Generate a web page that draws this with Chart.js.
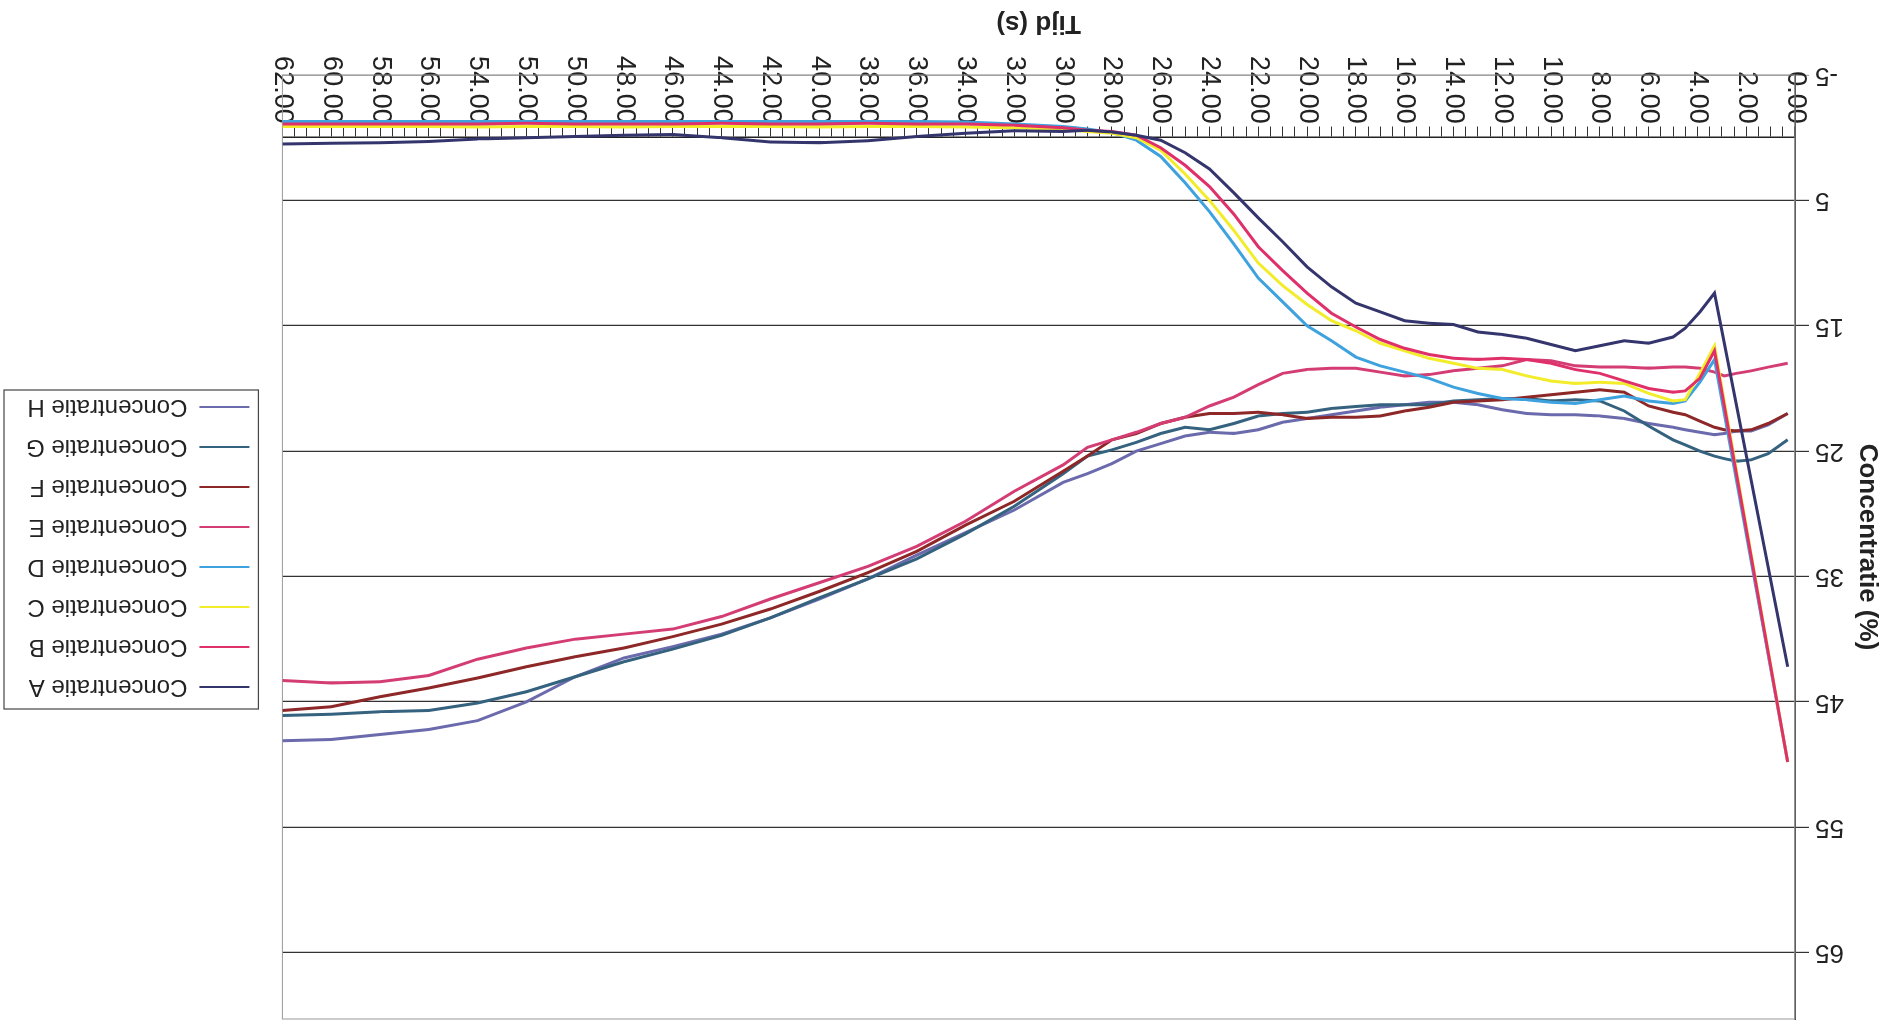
<!DOCTYPE html>
<html>
<head>
<meta charset="utf-8">
<script src="https://cdn.jsdelivr.net/npm/chart.js@4.4.1/dist/chart.umd.min.js"></script>
<style>
    html, body { margin: 0; padding: 0; background: #fff; overflow: hidden; }
    /* het origineel is ondersteboven gescand, dus de hele grafiek 180 graden draaien */
    #wrap { width: 1891px; height: 1025px; transform: rotate(180deg); }
</style>
</head>
<body>
<div id="wrap"><canvas id="grafiek" width="1891" height="1025"></canvas></div>
<script>
// tijd in seconden (gedeeld door alle reeksen)
const tijd = [0.3, 1.1, 1.8, 2.4, 2.9, 3.3, 3.9, 4.5, 5, 6, 7, 8, 9, 10, 11, 12, 13, 14, 15, 16,
    17, 18, 19, 20, 21, 22, 23, 24, 25, 26, 27, 28, 29, 30, 32, 34, 36, 38, 40, 42,
    44, 46, 48, 50, 52, 54, 56, 58, 60, 62];

// concentratie (%) per reeks, null = geen meting (lijn loopt door)
const concA = [42.2, null, null, null, null, 12.4, 13.9, 15.2, 15.9, 16.4, 16.2, 16.6, 17.0, 16.5, 16.0, 15.7, 15.5, 14.9, 14.8, 14.6,
    13.9, 13.2, 11.9, 10.3, 8.3, 6.4, 4.4, 2.5, 1.2, 0.2, -0.2, -0.45, -0.6, -0.5, -0.55, -0.35, -0.1, 0.25, 0.4, 0.35,
    0.0, -0.25, -0.2, -0.1, 0.0, 0.1, 0.3, 0.4, 0.45, 0.5];
const concB = [49.8, null, null, null, null, 17.0, 19.2, 20.2, 20.3, 20.0, 19.4, 18.8, 18.5, 18.0, 17.7, 17.6, 17.7, 17.6, 17.3, 16.8,
    16.1, 15.1, 14.0, 12.4, 10.6, 8.7, 6.1, 3.9, 2.2, 0.8, -0.2, -0.5, -0.6, -0.8, -1.0, -1.1, -1.1, -1.15, -1.1, -1.1,
    -1.15, -1.1, -1.1, -1.1, -1.15, -1.1, -1.1, -1.1, -1.1, -1.1];
const concC = [49.8, null, null, null, null, 16.6, 18.8, 20.9, 21.0, 20.4, 19.6, 19.5, 19.6, 19.4, 19.0, 18.5, 18.4, 18.0, 17.6, 17.0,
    16.4, 15.4, 14.6, 13.3, 11.8, 10.0, 7.4, 5.0, 2.9, 1.0, 0.0, -0.35, -0.5, -0.7, -0.8, -0.85, -0.9, -0.9, -0.85, -0.9,
    -0.9, -0.9, -0.85, -0.9, -0.9, -0.85, -0.9, -0.9, -0.9, -0.9];
const concD = [49.8, null, null, null, null, 17.7, 19.5, 21.0, 21.2, 21.0, 20.6, 20.9, 21.2, 21.1, 20.9, 20.8, 20.4, 19.9, 19.2, 18.7,
    18.2, 17.5, 16.2, 15.0, 13.1, 11.2, 8.5, 5.9, 3.6, 1.5, 0.2, -0.4, -0.7, -0.9, -1.1, -1.25, -1.3, -1.3, -1.3, -1.3,
    -1.3, -1.3, -1.3, -1.3, -1.3, -1.3, -1.3, -1.3, -1.3, -1.3];
const concE = [18.0, 18.3, 18.6, 18.8, 19.0, 18.7, 18.4, 18.3, 18.3, 18.4, 18.3, 18.3, 18.2, 17.8, 17.7, 18.2, 18.4, 18.6, 18.9, 19.0,
    18.7, 18.4, 18.4, 18.5, 18.8, 19.7, 20.7, 21.4, 22.3, 22.8, 23.5, 24.1, 24.7, 26.1, 28.2, 30.6, 32.6, 34.2, 35.5, 36.8,
    38.2, 39.2, 39.6, 40.0, 40.7, 41.6, 42.9, 43.4, 43.5, 43.3];
const concF = [22.0, 22.8, 23.3, 23.4, 23.3, 23.1, 22.6, 22.1, 21.9, 21.4, 20.3, 20.1, 20.3, 20.5, 20.7, 20.9, 21.0, 21.1, 21.5, 21.8,
    22.2, 22.3, 22.3, 22.4, 22.1, 21.9, 22.0, 22.0, 22.3, 22.8, 23.6, 24.1, 25.4, 26.6, 29.0, 30.9, 33.0, 34.7, 36.2, 37.6,
    38.8, 39.8, 40.7, 41.4, 42.2, 43.1, 43.9, 44.6, 45.4, 45.7];
const concG = [24.1, 25.2, 25.7, 25.8, 25.6, 25.4, 25.0, 24.5, 24.1, 23.0, 21.8, 21.0, 20.9, 21.0, 20.8, 20.8, 20.9, 21.0, 21.3, 21.3,
    21.3, 21.45, 21.6, 21.9, 22.0, 22.2, 22.8, 23.3, 23.1, 23.6, 24.3, 24.9, 25.4, 26.8, 29.4, 31.6, 33.6, 35.2, 36.7, 38.3,
    39.7, 40.8, 41.8, 43.0, 44.2, 45.1, 45.7, 45.8, 46.0, 46.1];
const concH = [22.0, 22.9, 23.4, 23.4, 23.6, 23.7, 23.5, 23.3, 23.1, 22.8, 22.4, 22.2, 22.1, 22.1, 22.0, 21.7, 21.3, 21.1, 21.1, 21.3,
    21.5, 21.8, 22.1, 22.4, 22.7, 23.3, 23.6, 23.5, 23.8, 24.4, 25.0, 26.0, 26.8, 27.5, 29.7, 31.5, 33.3, 35.2, 36.8, 38.3,
    39.6, 40.6, 41.5, 43.0, 45.0, 46.5, 47.2, 47.6, 48.0, 48.1];

const reeksNamen = ["Concentratie A", "Concentratie B", "Concentratie C", "Concentratie D",
    "Concentratie E", "Concentratie F", "Concentratie G", "Concentratie H"];
const yTicks = [-5, 5, 15, 25, 35, 45, 55, 65];

const alleReeksen = [concA, concB, concC, concD, concE, concF, concG, concH];
const kleuren = ["#35356e", "#e0306a", "#f2ec2a", "#3ea2de", "#d43d74", "#8e2727", "#34627f", "#6a6aac"];

Chart.defaults.font.family = '"Liberation Sans", Arial, sans-serif';
Chart.defaults.color = "#222";

// lichte rand om het tekengebied en een kader om de legenda
const kaderPlugin = {
    id: "kader",
    afterLayout(chart) {
        // legenda iets naar rechts, zoals in het origineel
        chart.legend.left += 17;
        chart.legend.right += 17;
    },
    beforeDatasetsDraw(chart) {
        const { ctx, chartArea } = chart;
        ctx.save();
        ctx.strokeStyle = "#9a9a9a";
        ctx.lineWidth = 1;
        ctx.strokeRect(chartArea.left, chartArea.top, chartArea.right - chartArea.left, chartArea.bottom - chartArea.top);
        ctx.restore();
    },
    afterDraw(chart) {
        const boxes = chart.legend.legendHitBoxes;
        if (!boxes || !boxes.length) return;
        const left = Math.min(...boxes.map(b => b.left)) - 9;
        const top = Math.min(...boxes.map(b => b.top)) - 10;
        const right = Math.max(...boxes.map(b => b.left + b.width)) + 22;
        const bottom = Math.max(...boxes.map(b => b.top + b.height)) + 5;
        const ctx = chart.ctx;
        ctx.save();
        ctx.strokeStyle = "#444";
        ctx.lineWidth = 1.2;
        ctx.strokeRect(left, top, right - left, bottom - top);
        ctx.restore();
    }
};

const datasets = alleReeksen.map((reeks, i) => ({
    label: reeksNamen[i],
    data: tijd.map((t, j) => ({ x: t, y: reeks[j] })),
    borderColor: kleuren[i],
    backgroundColor: kleuren[i],
    borderWidth: 3,
    pointRadius: 0,
    tension: 0,
    spanGaps: true
}));

new Chart(document.getElementById("grafiek"), {
    type: "line",
    data: { datasets: datasets },
    options: {
        responsive: false,
        animation: false,
        layout: { padding: { top: 6, bottom: 75, left: 4, right: 33 } },
        plugins: {
            tooltip: { enabled: false },
            legend: {
                position: "right",
                align: "center",
                labels: {
                    usePointStyle: true,
                    pointStyle: "line",
                    pointStyleWidth: 50,
                    padding: 16,
                    font: { size: 24 },
                    color: "#222",
                    generateLabels: chart =>
                        Chart.defaults.plugins.legend.labels.generateLabels(chart).map(l => ({ ...l, lineWidth: 2 }))
                }
            }
        },
        scales: {
            x: {
                type: "linear",
                min: 0,
                max: 62,
                position: { y: 0 },
                afterFit: s => { s.height = 134; },
                ticks: {
                    stepSize: 0.5,
                    autoSkip: false,
                    minRotation: 90,
                    maxRotation: 90,
                    padding: 4,
                    font: { size: 27 },
                    callback: v => (Math.abs(v % 2) < 1e-6 ? v.toFixed(2) : "")
                },
                grid: { drawOnChartArea: false, drawTicks: true, tickLength: 10, color: "#333" },
                border: { color: "#222", width: 1.5 },
                title: { display: true, text: "Tijd (s)", font: { size: 26, weight: "bold" }, color: "#222" }
            },
            y: {
                type: "linear",
                min: -5,
                max: 70.3,
                position: "left",
                afterFit: s => { s.width = 92; s.paddingTop = 0; s.paddingBottom = 0; },
                afterBuildTicks: s => { s.ticks = yTicks.map(v => ({ value: v })); },
                ticks: { padding: 6, font: { size: 26 }, callback: v => String(v) },
                grid: {
                    color: c => (c.tick && c.tick.value === -5 ? "#aaaaaa" : "#333"),
                    lineWidth: 1.2,
                    tickLength: 14
                },
                border: { color: "#222", width: 1.5 },
                title: { display: true, text: "Concentratie (%)", font: { size: 26, weight: "bold" }, color: "#222" }
            }
        }
    },
    plugins: [kaderPlugin]
});
</script>
</body>
</html>
